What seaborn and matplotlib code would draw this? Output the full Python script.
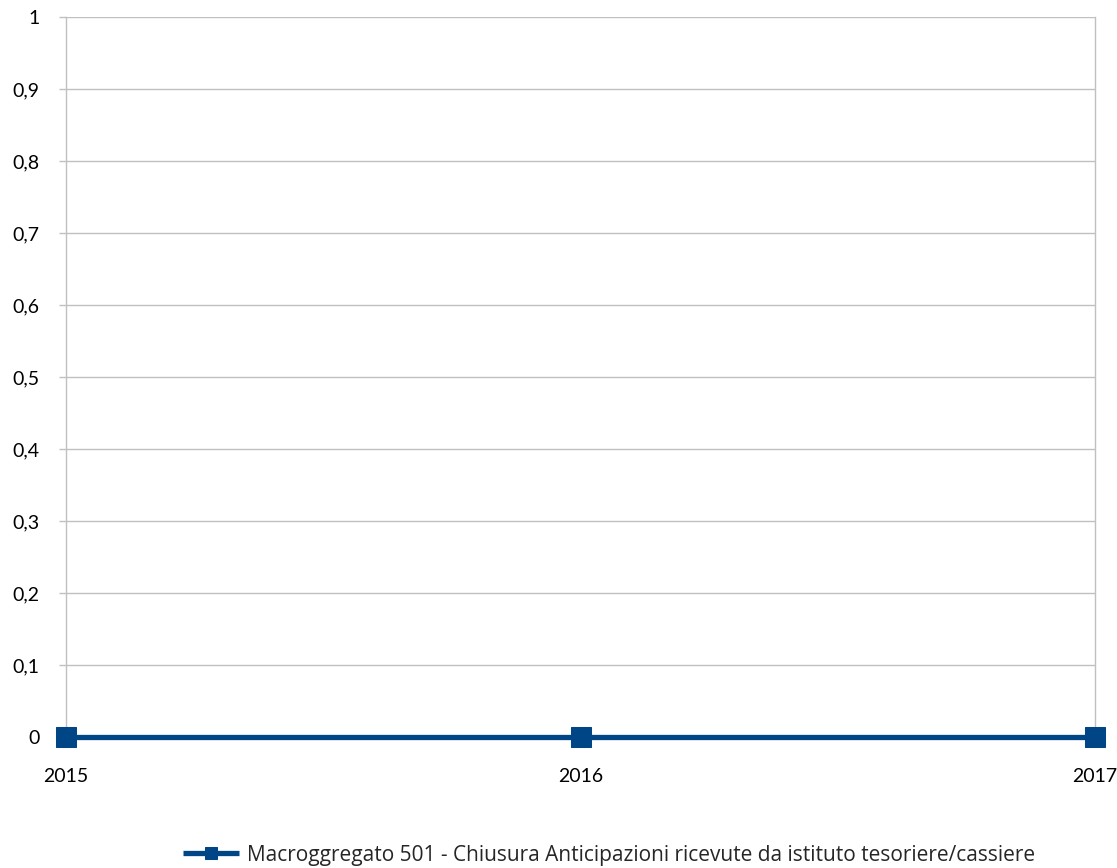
import matplotlib
matplotlib.use("Agg")
import matplotlib.pyplot as plt
import seaborn as sns
import pandas as pd
from matplotlib.ticker import FuncFormatter

sns.set_style("white")
plt.rcParams['font.family'] = ['Lato', 'DejaVu Sans']
plt.rcParams['lines.solid_capstyle'] = 'butt'

# ── Data ──
years = [2015, 2016, 2017]
values = [0, 0, 0]
series_name = "Macroggregato 501 - Chiusura Anticipazioni ricevute da istituto tesoriere/cassiere"
y_ticks = [0, 0.1, 0.2, 0.3, 0.4, 0.5, 0.6, 0.7, 0.8, 0.9, 1]

df = pd.DataFrame({'anno': years, 'valore': values})

fig = plt.figure(figsize=(11.17, 8.68), dpi=100)
ax = fig.add_axes([0.0591, 0.1509, 0.9803 - 0.0591, 0.9804 - 0.1509])

blue = '#004586'
sns.lineplot(data=df, x='anno', y='valore', ax=ax, color=blue, linewidth=3.8,
             marker='s', markersize=14, markeredgecolor=blue,
             label=series_name, legend=False, clip_on=False, zorder=5)

ax.set_xlim(2015, 2017)
ax.set_ylim(0, 1)
ax.set_xticks(years)
ax.set_xticklabels([str(y) for y in years])
ax.set_yticks(y_ticks)
ax.yaxis.set_major_formatter(FuncFormatter(
    lambda v, p: ('%g' % round(v, 1)).replace('.', ',')))
ax.set_xlabel('')
ax.set_ylabel('')

ax.grid(axis='y', color='#c0c0c0', linewidth=1)
ax.grid(axis='x', visible=False)
for name, sp in ax.spines.items():
    sp.set_color('#c0c0c0')
    sp.set_linewidth(1)
ax.spines['top'].set_visible(False)

ax.tick_params(axis='y', length=5, width=1, color='#c0c0c0', pad=14,
               labelsize=14, labelcolor='black', left=True)
ax.tick_params(axis='x', length=5, width=1, color='#c0c0c0', pad=17,
               labelsize=14, labelcolor='black', bottom=True)

handles, labels = ax.get_legend_handles_labels()
leg = fig.legend(handles, labels, loc='center', frameon=False,
                 prop={'family': ['Open Sans', 'DejaVu Sans'], 'size': 15},
                 handlelength=2.7, handletextpad=0.4, markerscale=0.6)
leg.set_bbox_to_anchor((609 / 1117, 1 - 855 / 868), transform=fig.transFigure)

fig.savefig('out.png', dpi=100, facecolor='white')
